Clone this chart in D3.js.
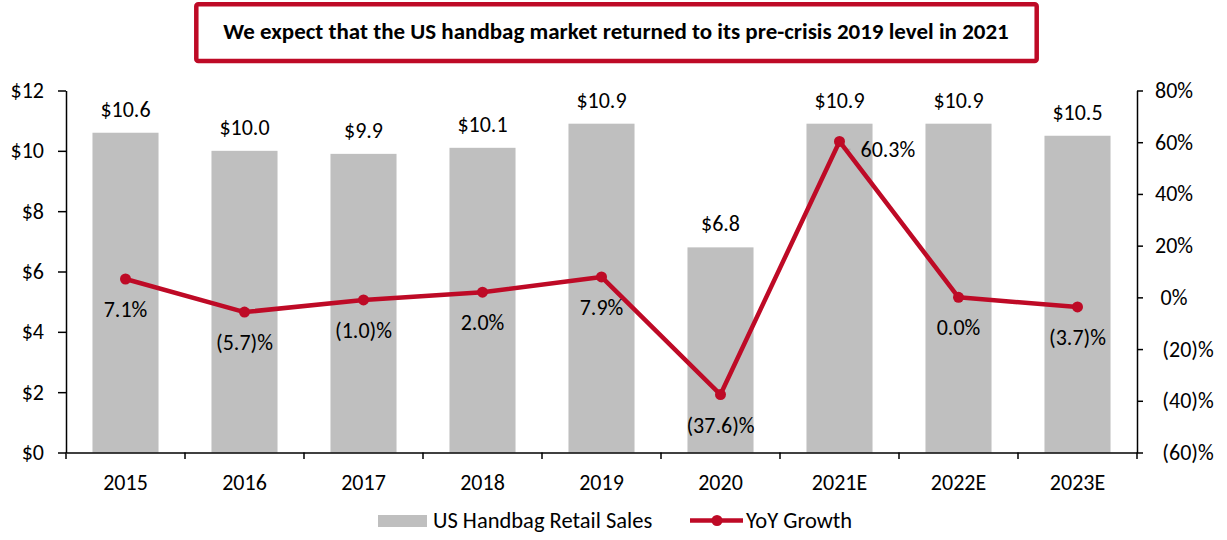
<!DOCTYPE html>
<html><head><meta charset="utf-8">
<script src="https://cdn.jsdelivr.net/npm/d3@7"></script>
<style>body{margin:0;background:#fff}svg{display:block;font-family:Calibri,Carlito,Lato,sans-serif}</style>
</head><body><svg id="c" width="1227" height="540"></svg>
<script>
const categories = ["2015","2016","2017","2018","2019","2020","2021E","2022E","2023E"];
const salesValues = [10.6,10.0,9.9,10.1,10.9,6.8,10.9,10.9,10.5];
const growthValues = [7.1,-5.7,-1.0,2.0,7.9,-37.6,60.3,0.0,-3.7];
const leftTicks = [0,2,4,6,8,10,12];
const rightTicks = [-60,-40,-20,0,20,40,60,80];
const title = "We expect that the US handbag market returned to its pre-crisis 2019 level in 2021";
const seriesNames = ["US Handbag Retail Sales","YoY Growth"];

const svg = d3.select("#c");
const red = "#BE0A26", grey = "#BFBFBF";
const x = d3.scaleBand().domain(categories).range([66,1137]).paddingInner(0.445).paddingOuter(0.2225);
const yL = d3.scaleLinear().domain([0,12]).range([452.5,90.5]);
const yR = d3.scaleLinear().domain([-60,80]).range([452.5,90.5]);
const fs = 22;

// title box
svg.append("rect").attr("x",196.3).attr("y",4.3).attr("width",840.4).attr("height",56.7).attr("rx",2)
  .attr("fill","#fff").attr("stroke",red).attr("stroke-width",4.5);
svg.append("text").attr("x",616).attr("y",39).attr("text-anchor","middle")
  .attr("font-weight","bold").attr("font-size",23).text(title);

// bars
svg.selectAll(".bar").data(categories).enter().append("rect")
  .attr("x",d=>x(d)).attr("width",x.bandwidth())
  .attr("y",(d,i)=>yL(salesValues[i])).attr("height",(d,i)=>yL(0)-yL(salesValues[i]))
  .attr("fill",grey);
svg.selectAll(".bl").data(categories).enter().append("text")
  .attr("x",d=>x(d)+x.bandwidth()/2).attr("y",(d,i)=>yL(salesValues[i])-16)
  .attr("text-anchor","middle").attr("font-size",fs).text((d,i)=>"$"+salesValues[i].toFixed(1));

// axes
const axL = svg.append("g").attr("transform","translate(66,0)")
  .call(d3.axisLeft(yL).tickValues(leftTicks).tickSize(8).tickSizeOuter(0).tickPadding(14).tickFormat(d=>"$"+d));
const axR = svg.append("g").attr("transform","translate(1137,0)")
  .call(d3.axisRight(yR).tickValues(rightTicks).tickSize(6).tickSizeOuter(0).tickPadding(0)
  .tickFormat(d=>d<0?"("+Math.abs(d)+")%":d+"%"));
axR.selectAll(".tick text").attr("text-anchor","middle").attr("x",d=>d<0?51:37);
const axB = svg.append("g").attr("transform","translate(0,452.5)")
  .call(d3.axisBottom(x).tickSize(0).tickPadding(22));
const bounds = d3.range(categories.length+1).map(i=>66+i*x.step());
svg.selectAll(".xt").data(bounds).enter().append("line")
  .attr("x1",d=>d).attr("x2",d=>d).attr("y1",452.5).attr("y2",459).attr("stroke","#000").attr("stroke-width",1.5);
[axL,axR,axB].forEach(a=>{
  a.selectAll("text").attr("font-size",fs).attr("fill","#000").attr("font-family","Calibri,Carlito,Lato,sans-serif");
  a.selectAll("path,line").attr("stroke","#000").attr("stroke-width",1.5);
});

// line
const cx = d=>x(d)+x.bandwidth()/2;
// small leader for the 2021E label
svg.append("line").attr("x1",cx(categories[6])+3).attr("x2",cx(categories[6])+11)
  .attr("y1",yR(growthValues[6])+8).attr("y2",yR(growthValues[6])+8).attr("stroke","#A6A6A6").attr("stroke-width",1.5);
const line = d3.line().x((d,i)=>cx(categories[i])).y(d=>yR(d));
svg.append("path").datum(growthValues).attr("d",line).attr("fill","none")
  .attr("stroke",red).attr("stroke-width",4.5).attr("stroke-linejoin","round");
svg.selectAll(".pt").data(growthValues).enter().append("circle")
  .attr("cx",(d,i)=>cx(categories[i])).attr("cy",d=>yR(d)).attr("r",5.5).attr("fill",red);
const fmtP = v=>v<0?"("+Math.abs(v).toFixed(1)+")%":v.toFixed(1)+"%";
svg.selectAll(".pl").data(growthValues).enter().append("text")
  .attr("x",(d,i)=>i===6?cx(categories[i])+21:cx(categories[i]))
  .attr("y",(d,i)=>i===6?yR(d)+16:yR(d)+38)
  .attr("text-anchor",(d,i)=>i===6?"start":"middle")
  .attr("font-size",fs).text(d=>fmtP(d));

// legend
const lg = svg.append("g");
lg.append("rect").attr("x",378).attr("y",515).attr("width",49).attr("height",12).attr("fill",grey);
lg.append("text").attr("x",433).attr("y",528).attr("font-size",22.5).text(seriesNames[0]);
lg.append("line").attr("x1",690).attr("x2",743).attr("y1",520.5).attr("y2",520.5).attr("stroke",red).attr("stroke-width",4.5);
lg.append("circle").attr("cx",717).attr("cy",520.5).attr("r",5.5).attr("fill",red);
lg.append("text").attr("x",746).attr("y",528).attr("font-size",22.5).text(seriesNames[1]);
</script></body></html>
